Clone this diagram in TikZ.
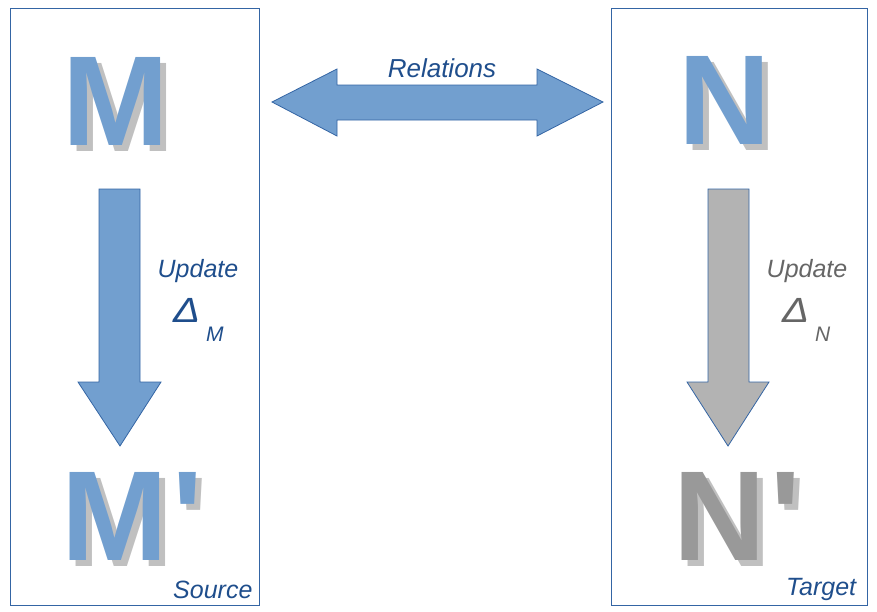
\documentclass[tikz,border=0pt]{standalone}
\usepackage{graphicx}
\usepackage{fontspec}
\setmainfont{Liberation Sans}
\newfontfamily\bigf{Liberation Sans}[BoldFont={Liberation Sans Bold}]
\definecolor{fillblue}{HTML}{729FCF}
\definecolor{lineblue}{HTML}{3465A4}
\definecolor{txtblue}{HTML}{1F4E8C}
\definecolor{txtgray}{HTML}{666666}
\definecolor{arrgray}{HTML}{B3B3B3}
\definecolor{letgray}{HTML}{999999}
\definecolor{shadowgray}{HTML}{C0C0C0}
\newcommand{\qs}{\kern5pt\XeTeXglyph\XeTeXcharglyph"27\relax}
\newcommand{\wdelta}{\scalebox{1.15}[1]{Δ}}
\tikzset{
  panel/.style={draw=lineblue, line width=1pt},
  shape arrow/.style={draw=lineblue, line width=0.8pt, line join=miter},
  bigletter/.style={inner sep=0pt, anchor=base, font=\fontsize{128}{128}\selectfont\bfseries},
  lbl/.style={inner sep=0pt, font=\fontsize{25}{25}\selectfont\itshape},
  delta/.style={inner sep=0pt, anchor=base west, font=\fontsize{35}{35}\selectfont\itshape},
  sub/.style={inner sep=0pt, anchor=base west, font=\fontsize{21}{21}\selectfont\itshape}
}
\begin{document}
\begin{tikzpicture}[x=1pt,y=-1pt]
\useasboundingbox (0,0) rectangle (877,611);
% panels
\draw[panel] (10,8) rectangle (259,605);
\draw[panel] (611,8) rectangle (867,605);
% double arrow
\draw[shape arrow, fill=fillblue] (272,102) -- (337,69) -- (337,85) -- (537,85) -- (537,69) -- (603,102)
  -- (537,136) -- (537,120) -- (337,120) -- (337,136) -- cycle;
\node[lbl, anchor=base, text=txtblue, font=\fontsize{26}{26}\selectfont\itshape] (rel) at (442,77) {Relations};
% down arrows
\draw[shape arrow, fill=fillblue] (99,189) -- (140,189) -- (140,382) -- (161,382) -- (120,446)
  -- (78,382) -- (99,382) -- cycle;
\draw[shape arrow, fill=arrgray] (708,189) -- (749,189) -- (749,382) -- (769,382) -- (728,446)
  -- (687,382) -- (708,382) -- cycle;
% big letters with shadows
\node[bigletter, text=shadowgray] (ms) at (122,151) {M};
\node[bigletter, text=fillblue] (m) at (116,145) {M};
\node[bigletter, text=shadowgray] (ns) at (731,150) {N};
\node[bigletter, text=fillblue] (n) at (725,144) {N};
\node[bigletter, anchor=base west, text=shadowgray] (mps) at (67,566) {M\qs};
\node[bigletter, anchor=base west, text=fillblue] (mp) at (61,560) {M\qs};
\node[bigletter, anchor=base west, text=shadowgray] (nps) at (679,566) {N\qs};
\node[bigletter, anchor=base west, text=letgray] (np) at (673,560) {N\qs};
% update labels
\node[lbl, anchor=base, text=txtblue] (upl) at (198,277) {Update};
\node[delta, text=txtblue] (dl) at (173,322) {\wdelta};
\node[sub, text=txtblue] (sl) at (206,341) {M};
\node[lbl, anchor=base, text=txtgray] (upr) at (807,277) {Update};
\node[delta, text=txtgray] (dr) at (782,322) {\wdelta};
\node[sub, text=txtgray] (sr) at (815,341) {N};
% captions
\node[lbl, anchor=base west, text=txtblue] (src) at (173,598) {Source};
\node[lbl, anchor=base west, text=txtblue] (tgt) at (786,595) {Target};
\end{tikzpicture}
\end{document}
